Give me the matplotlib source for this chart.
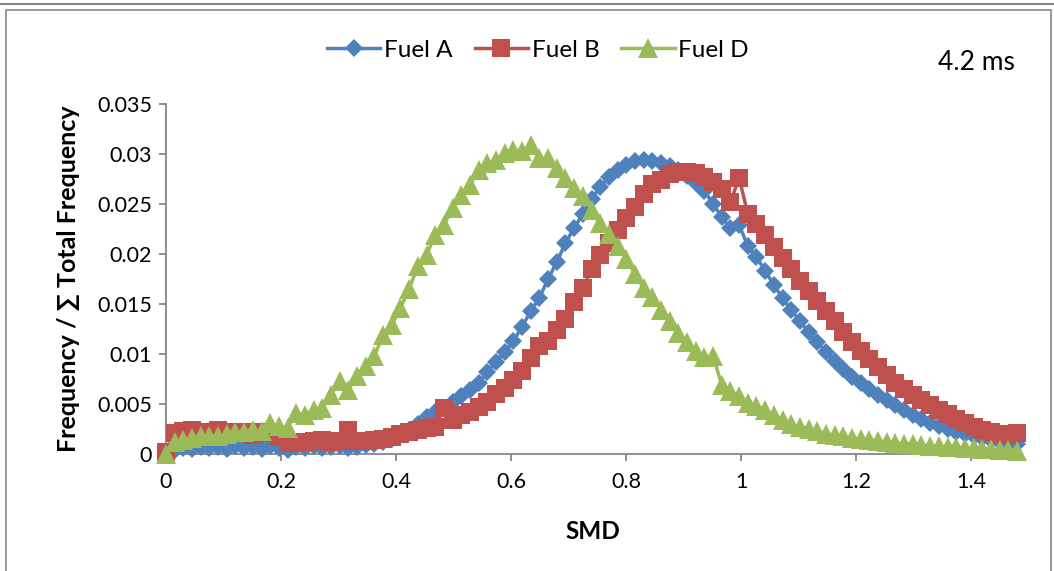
import matplotlib
matplotlib.use("Agg")
import matplotlib.pyplot as plt
from matplotlib.lines import Line2D
from matplotlib.patches import Rectangle

plt.rcParams['font.family'] = ['Lato', 'DejaVu Sans']

# SMD bins (shared by all three fuels)
smd = [0.0000, 0.0151, 0.0302, 0.0453, 0.0604, 0.0755, 0.0906, 0.1057, 0.1208, 0.1359,
       0.1510, 0.1661, 0.1812, 0.1963, 0.2114, 0.2265, 0.2416, 0.2567, 0.2718, 0.2869,
       0.3020, 0.3171, 0.3322, 0.3473, 0.3624, 0.3775, 0.3926, 0.4077, 0.4228, 0.4379,
       0.4530, 0.4681, 0.4832, 0.4983, 0.5134, 0.5285, 0.5436, 0.5587, 0.5738, 0.5889,
       0.6040, 0.6191, 0.6342, 0.6493, 0.6644, 0.6795, 0.6946, 0.7097, 0.7248, 0.7399,
       0.7550, 0.7701, 0.7852, 0.8003, 0.8154, 0.8305, 0.8456, 0.8607, 0.8758, 0.8909,
       0.9060, 0.9211, 0.9362, 0.9513, 0.9664, 0.9815, 0.9966, 1.0117, 1.0268, 1.0419,
       1.0570, 1.0721, 1.0872, 1.1023, 1.1174, 1.1325, 1.1476, 1.1627, 1.1778, 1.1929,
       1.2080, 1.2231, 1.2382, 1.2533, 1.2684, 1.2835, 1.2986, 1.3137, 1.3288, 1.3439,
       1.3590, 1.3741, 1.3892, 1.4043, 1.4194, 1.4345, 1.4496, 1.4647, 1.4798]

fuel_a = [0.0000, 0.0004, 0.0006, 0.0005, 0.0007, 0.0006, 0.0007, 0.0005, 0.0008, 0.0006,
          0.0007, 0.0005, 0.0008, 0.0006, 0.0004, 0.0007, 0.0006, 0.0008, 0.0006, 0.0007,
          0.0008, 0.0006, 0.0007, 0.0009, 0.0010, 0.0012, 0.0015, 0.0019, 0.0024, 0.0030,
          0.0037, 0.0042, 0.0046, 0.0052, 0.0058, 0.0064, 0.0071, 0.0082, 0.0092, 0.0102,
          0.0113, 0.0127, 0.0143, 0.0156, 0.0175, 0.0192, 0.0211, 0.0226, 0.0240, 0.0255,
          0.0267, 0.0277, 0.0284, 0.0289, 0.0293, 0.0294, 0.0293, 0.0291, 0.0288, 0.0284,
          0.0278, 0.0271, 0.0263, 0.0250, 0.0237, 0.0226, 0.0229, 0.0208, 0.0197, 0.0183,
          0.0169, 0.0156, 0.0144, 0.0133, 0.0122, 0.0112, 0.0102, 0.0093, 0.0085, 0.0077,
          0.0071, 0.0065, 0.0059, 0.0054, 0.0049, 0.0044, 0.0039, 0.0035, 0.0031, 0.0028,
          0.0025, 0.0022, 0.0020, 0.0018, 0.0016, 0.0014, 0.0012, 0.0011, 0.0010]

fuel_b = [0.0002, 0.0021, 0.0023, 0.0024, 0.0021, 0.0022, 0.0024, 0.0021, 0.0022, 0.0022,
          0.0019, 0.0022, 0.0021, 0.0017, 0.0011, 0.0011, 0.0012, 0.0013, 0.0014, 0.0012,
          0.0013, 0.0024, 0.0013, 0.0013, 0.0014, 0.0015, 0.0017, 0.0020, 0.0022, 0.0024,
          0.0026, 0.0027, 0.0046, 0.0034, 0.0039, 0.0042, 0.0047, 0.0052, 0.0060, 0.0066,
          0.0074, 0.0083, 0.0096, 0.0108, 0.0113, 0.0124, 0.0135, 0.0152, 0.0166, 0.0185,
          0.0199, 0.0211, 0.0224, 0.0236, 0.0247, 0.0260, 0.0270, 0.0274, 0.0280, 0.0282,
          0.0282, 0.0281, 0.0277, 0.0272, 0.0265, 0.0252, 0.0276, 0.0240, 0.0230, 0.0219,
          0.0207, 0.0196, 0.0185, 0.0173, 0.0163, 0.0153, 0.0143, 0.0133, 0.0122, 0.0112,
          0.0103, 0.0095, 0.0087, 0.0079, 0.0071, 0.0065, 0.0059, 0.0054, 0.0049, 0.0044,
          0.0040, 0.0035, 0.0031, 0.0027, 0.0024, 0.0022, 0.0020, 0.0019, 0.0021]

fuel_d = [0.0000, 0.0012, 0.0014, 0.0016, 0.0018, 0.0018, 0.0018, 0.0020, 0.0022, 0.0022,
          0.0024, 0.0023, 0.0031, 0.0028, 0.0026, 0.0041, 0.0039, 0.0044, 0.0046, 0.0059,
          0.0073, 0.0064, 0.0078, 0.0088, 0.0098, 0.0119, 0.0129, 0.0146, 0.0165, 0.0188,
          0.0199, 0.0219, 0.0229, 0.0246, 0.0259, 0.0269, 0.0284, 0.0291, 0.0294, 0.0301,
          0.0304, 0.0303, 0.0309, 0.0296, 0.0296, 0.0286, 0.0276, 0.0266, 0.0258, 0.0244,
          0.0231, 0.0220, 0.0208, 0.0195, 0.0180, 0.0166, 0.0157, 0.0144, 0.0133, 0.0121,
          0.0112, 0.0103, 0.0097, 0.0098, 0.0069, 0.0063, 0.0058, 0.0051, 0.0048, 0.0044,
          0.0039, 0.0034, 0.0030, 0.0027, 0.0025, 0.0023, 0.0020, 0.0019, 0.0018, 0.0016,
          0.0015, 0.0014, 0.0013, 0.0012, 0.0011, 0.0010, 0.0010, 0.0009, 0.0008, 0.0008,
          0.0007, 0.0007, 0.0006, 0.0006, 0.0005, 0.0005, 0.0004, 0.0004, 0.0003]

x_ticks = [0, 0.2, 0.4, 0.6, 0.8, 1.0, 1.2, 1.4]
x_tick_labels = ["0", "0.2", "0.4", "0.6", "0.8", "1", "1.2", "1.4"]
y_ticks = [0, 0.005, 0.01, 0.015, 0.02, 0.025, 0.03, 0.035]
y_tick_labels = ["0", "0.005", "0.01", "0.015", "0.02", "0.025", "0.03", "0.035"]

BLUE = "#4F81BD"
RED = "#C0504D"
GREEN = "#9BBB59"
AXIS_GREY = "#868686"

fig = plt.figure(figsize=(10.54, 5.71), dpi=100)
ax = fig.add_axes([166 / 1054, 1 - 454 / 571, (1020 - 166) / 1054, (454 - 104) / 571])

# chart frame like the Excel export
fig.patches.append(Rectangle((6 / 1054, -0.05), 1045 / 1054, 1.05 - 10 / 571,
                             transform=fig.transFigure, fill=False,
                             edgecolor=AXIS_GREY, linewidth=1.2))
fig.add_artist(Line2D([0, 1], [1 - 4 / 571, 1 - 4 / 571], transform=fig.transFigure,
                      color=AXIS_GREY, linewidth=1.5))

ax.plot(smd, fuel_a, color=BLUE, linewidth=2.5, marker="D", markersize=9.5,
        markeredgewidth=0, label="Fuel A", clip_on=False, zorder=3)
ax.plot(smd, fuel_b, color=RED, linewidth=2.5, marker="s", markersize=12.5,
        markeredgewidth=0, label="Fuel B", clip_on=False, zorder=4)
ax.plot(smd, fuel_d, color=GREEN, linewidth=2.5, marker="^", markersize=14,
        markeredgewidth=0, label="Fuel D", clip_on=False, zorder=5)

ax.set_xlim(0, 1.485)
ax.set_ylim(0, 0.035)
ax.set_xticks(x_ticks)
ax.set_xticklabels(x_tick_labels)
ax.set_yticks(y_ticks)
ax.set_yticklabels(y_tick_labels)

for side in ["top", "right"]:
    ax.spines[side].set_visible(False)
for side in ["left", "bottom"]:
    ax.spines[side].set_color(AXIS_GREY)
    ax.spines[side].set_linewidth(1.3)
ax.tick_params(axis="both", colors=AXIS_GREY, length=5, width=1.3, labelsize=15.5,
               labelcolor="black", pad=5)
ax.tick_params(axis="x", pad=8)

ax.set_xlabel("SMD", fontsize=17.5, fontweight="bold", labelpad=20)
ax.set_ylabel("Frequency / \u2211 Total Frequency", fontsize=18, fontweight="bold",
              labelpad=12)

fig.text(976 / 1054, 1 - 62 / 571, "4.2 ms", fontsize=19, ha="center", va="center")

fig.legend(loc="center", bbox_to_anchor=(538 / 1054, 1 - 50 / 571), ncol=3,
           frameon=False, fontsize=17.5, handlelength=2.2, handletextpad=0.15,
           columnspacing=0.9)

fig.savefig("out.png", dpi=100)
plt.close(fig)
